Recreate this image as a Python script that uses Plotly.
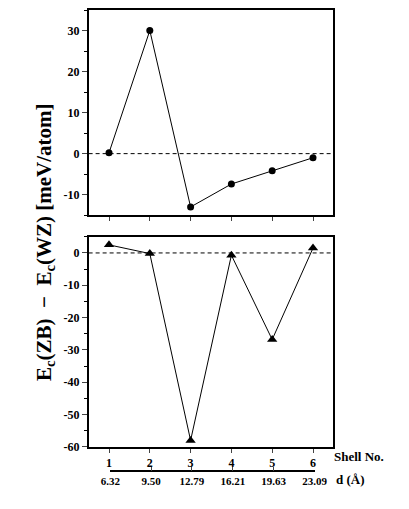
import plotly.graph_objects as go

# datos
shell = [1, 2, 3, 4, 5, 6]
d_labels = ["6.32", "9.50", "12.79", "16.21", "19.63", "23.09"]
wz_top = [0.2, 30.0, -13.0, -7.4, -4.2, -1.0]
zb_bottom = [2.5, -0.2, -58.0, -0.7, -26.8, 1.5]

top_ticks = [-10, 0, 10, 20, 30]
bottom_ticks = [0, -10, -20, -30, -40, -50, -60]

# la pagina deja 8 px de margen en el body
PAD = 8
W, H = 409 - 2 * PAD, 509 - 2 * PAD
FONT = "Liberation Serif, Times New Roman, serif"


def px_x(v):
    return (v - PAD) / W


def px_y(v):
    return 1 - (v - PAD) / H


fig = go.Figure()

fig.add_trace(go.Scatter(
    x=shell, y=wz_top, mode="lines+markers",
    line=dict(color="black", width=1),
    marker=dict(symbol="circle", size=7, color="black"),
    xaxis="x", yaxis="y", showlegend=False,
))
fig.add_trace(go.Scatter(
    x=shell, y=zb_bottom, mode="lines+markers",
    line=dict(color="black", width=1),
    marker=dict(symbol="triangle-up", size=9, color="black"),
    xaxis="x2", yaxis="y2", showlegend=False, cliponaxis=False,
))
# traza invisible para que se dibuje el eje de distancias
fig.add_trace(go.Scatter(
    x=shell, y=[0] * len(shell), mode="markers", opacity=0,
    xaxis="x3", yaxis="y3", showlegend=False, hoverinfo="skip",
))

x_dom = [px_x(83), px_x(343)]
tick_font = dict(family=FONT, size=12, color="black")

common_x = dict(
    range=[0.5, 6.5], tickvals=shell, ticks="outside", ticklen=4,
    showline=True, linecolor="black", linewidth=1.5, mirror=True,
    showgrid=False, zeroline=False, domain=x_dom, tickfont=tick_font,
)
common_y = dict(
    ticks="outside", ticklen=5, showline=True, linecolor="black",
    linewidth=1.5, mirror=True, showgrid=False, zeroline=False,
    tickfont=tick_font,
    minor=dict(ticks="outside", dtick=5, ticklen=3, tickcolor="black"),
)

fig.update_layout(
    width=W, height=H,
    paper_bgcolor="white", plot_bgcolor="rgba(0,0,0,0)",
    margin=dict(l=0, r=0, t=0, b=0),
    font=dict(family=FONT, color="black"),
    xaxis=dict(common_x, anchor="y", showticklabels=False),
    yaxis=dict(common_y, anchor="x", range=[-15, 35],
               domain=[px_y(217), px_y(8)],
               tickvals=top_ticks, ticktext=[f"<b>{t}</b>" for t in top_ticks]),
    xaxis2=dict(common_x, anchor="y2",
                ticktext=[f"<b>{s}</b>" for s in shell]),
    yaxis2=dict(common_y, anchor="x2", range=[-60, 5],
                domain=[px_y(453), px_y(239)],
                tickvals=bottom_ticks,
                ticktext=[f"<b>{t}</b>" for t in bottom_ticks]),
    xaxis3=dict(
        range=[1, 6], domain=[px_x(106), px_x(323)],
        anchor="free", position=px_y(478),
        tickvals=shell, ticktext=[f"<b>{d}</b>" for d in d_labels],
        ticks="inside", ticklen=4, showline=True, linecolor="black",
        linewidth=1.5, showgrid=False, zeroline=False,
        tickfont=dict(tick_font, size=11),
    ),
    yaxis3=dict(visible=False, anchor="x3", domain=[0, 0.01]),
)

# lineas de referencia en cero
for xr, yr in (("x", "y"), ("x2", "y2")):
    fig.add_shape(type="line", xref=f"{xr} domain", yref=yr,
                  x0=0, x1=1, y0=0, y1=0,
                  line=dict(color="black", width=1, dash="4px,3px"))

fig.add_annotation(
    text="<b>E<sub>c</sub>(ZB)  −  E<sub>c</sub>(WZ) [meV/atom]</b>",
    x=px_x(36), y=px_y(244), xref="paper", yref="paper",
    xanchor="center", yanchor="middle",
    textangle=-90, showarrow=False, font=dict(family=FONT, size=21),
)
fig.add_annotation(
    text="<b>Shell No.</b>", x=px_x(342), y=px_y(463),
    xref="paper", yref="paper", xanchor="left", yanchor="middle",
    showarrow=False, font=dict(family=FONT, size=13),
)
fig.add_annotation(
    text="<b>d (Å)</b>", x=px_x(344), y=px_y(486),
    xref="paper", yref="paper", xanchor="left", yanchor="middle",
    showarrow=False, font=dict(family=FONT, size=13),
)

fig.write_html("out.html")
